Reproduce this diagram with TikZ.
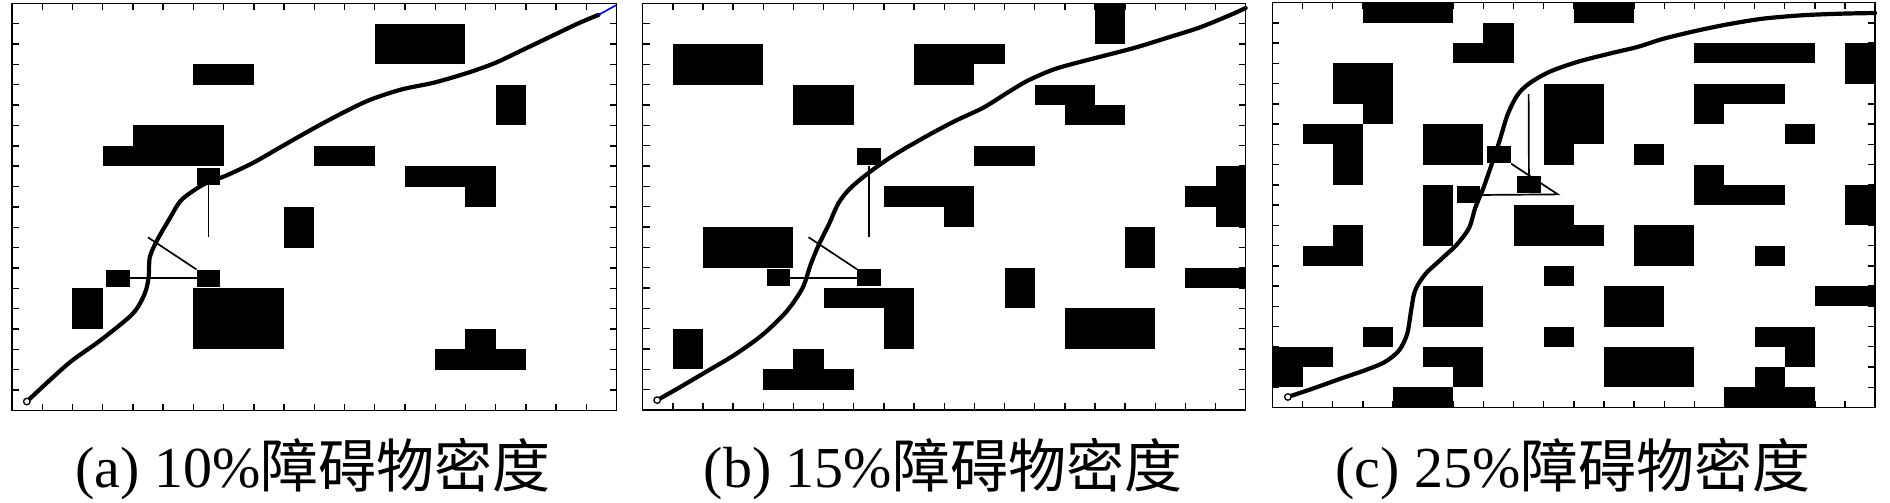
\documentclass[tikz,border=0pt]{standalone}
\usepackage{fontspec}
\setmainfont{Liberation Serif}
\newfontfamily\cjk{Noto Sans CJK SC}
\tikzset{
 obst/.style={fill=black},
 frm/.style={line width=1.5pt},
 tck/.style={line width=1.4pt},
 route/.style={line width=4.2pt, line cap=round, line join=round},
 mv/.style={line width=1.7pt},
 dyn/.style={fill=black, inner sep=0pt, minimum width=23.5pt, minimum height=17pt},
 startpt/.style={circle, draw, fill=white, line width=1.3pt, inner sep=0pt, minimum size=6.5pt},
 lab/.style={font=\fontsize{58}{60}\selectfont, anchor=base, inner sep=0pt}
}
\newcommand\myframe{%
  \draw[frm] (0,0) rectangle (20,20);
  \foreach \i in {1,...,19}{%
    \draw[tck] (\i,0) -- (\i,0.33);
    \draw[tck] (\i,20) -- (\i,19.67);
    \draw[tck] (0,\i) -- (0.23,\i);
    \draw[tck] (20,\i) -- (19.77,\i);
  }}
\begin{document}
\begin{tikzpicture}[x=1pt,y=1pt]
\useasboundingbox (0,0) rectangle (1890,-503);
\fill[white] (0,0) rectangle (1890,-503);

% ---------------- panel (a)
\begin{scope}[shift={(12pt,-3.3pt)}, x=30.23pt, y=-20.36pt]
\fill[obst] (12,1) rectangle (15,3);
\fill[obst] (6,3) rectangle (8,4);
\fill[obst] (16,4) rectangle (17,6);
\fill[obst] (4,6) rectangle (7,8);
\fill[obst] (3,7) rectangle (4,8);
\fill[obst] (10,7) rectangle (12,8);
\fill[obst] (13,8) rectangle (16,9);
\fill[obst] (15,9) rectangle (16,10);
\fill[obst] (9,10) rectangle (10,12);
\fill[obst] (2,14) rectangle (3,16);
\fill[obst] (6,14) rectangle (9,17);
\fill[obst] (15,16) rectangle (16,17);
\fill[obst] (14,17) rectangle (17,18);
\node[dyn] (a1) at (6.5,8.5) {};
\node[dyn] (a2) at (3.5,13.5) {};
\node[dyn] (a3) at (6.5,13.5) {};
\coordinate (a1end) at (6.5,11.5);
\coordinate (a3end) at (4.5,11.5);
\draw[mv] (a1.south) -- (a1end);
\draw[mv] (a2.east) -- (a3.west);
\draw[mv] (a3.north west) -- (a3end);
\draw[route] plot[smooth] coordinates {(0.49,19.56) (1.86,17.70) (2.92,16.56) (3.99,15.25) (4.39,14.26) (4.52,13.44) (4.56,12.46) (4.80,11.64) (5.18,10.66) (5.58,9.70) (6.11,9.10) (6.51,8.77) (7.04,8.49) (7.97,7.84) (8.90,7.05) (9.97,6.15) (10.90,5.41) (11.83,4.75) (12.89,4.23) (13.95,3.90) (15.02,3.44) (15.95,2.95) (16.88,2.30) (17.81,1.64) (18.74,0.98) (19.40,0.57)};
\coordinate (aend) at (19.40,0.57);
\coordinate (acorner) at (20,0.08);
\draw[blue!80!black, line width=1.6pt] (aend) -- (acorner);
\node[startpt] (astart) at (0.49,19.56) {};
\myframe
\end{scope}

% ---------------- panel (b)
\begin{scope}[shift={(642.7pt,-3.3pt)}, x=30.15pt, y=-20.34pt]
\fill[obst] (15,0) rectangle (16,2);
\fill[obst] (1,2) rectangle (4,4);
\fill[obst] (9,2) rectangle (12,3);
\fill[obst] (9,3) rectangle (11,4);
\fill[obst] (5,4) rectangle (7,6);
\fill[obst] (13,4) rectangle (15,5);
\fill[obst] (14,5) rectangle (16,6);
\fill[obst] (11,7) rectangle (13,8);
\fill[obst] (19,8) rectangle (20,11);
\fill[obst] (18,9) rectangle (19,10);
\fill[obst] (8,9) rectangle (11,10);
\fill[obst] (10,10) rectangle (11,11);
\fill[obst] (2,11) rectangle (5,13);
\fill[obst] (16,11) rectangle (17,13);
\fill[obst] (12,13) rectangle (13,15);
\fill[obst] (18,13) rectangle (20,14);
\fill[obst] (6,14) rectangle (9,15);
\fill[obst] (8,15) rectangle (9,17);
\fill[obst] (14,15) rectangle (17,17);
\fill[obst] (1,16) rectangle (2,18);
\fill[obst] (5,17) rectangle (6,18);
\fill[obst] (4,18) rectangle (7,19);
\node[dyn] (b1) at (7.5,7.55) {};
\node[dyn] (b2) at (4.5,13.5) {};
\node[dyn] (b3) at (7.5,13.5) {};
\coordinate (b1end) at (7.5,11.5);
\coordinate (b3end) at (5.5,11.5);
\draw[mv] (b1.south) -- (b1end);
\draw[mv] (b2.east) -- (b3.west);
\draw[mv] (b3.north west) -- (b3end);
\draw[route] plot[smooth] coordinates {(0.48,19.51) (1.17,18.93) (2.11,18.11) (3.04,17.29) (3.97,16.30) (4.77,15.15) (5.30,14.00) (5.57,12.85) (5.84,11.87) (6.17,10.88) (6.50,9.81) (6.90,9.07) (7.57,8.25) (8.37,7.43) (9.43,6.52) (10.37,5.78) (11.30,5.13) (12.10,4.39) (12.76,3.81) (13.56,3.29) (14.23,2.99) (15.30,2.58) (16.36,2.17) (17.43,1.68) (18.49,1.18) (19.56,0.53) (20.0,0.23)};
\node[startpt] (bstart) at (0.48,19.51) {};
\myframe
\end{scope}

% ---------------- panel (c)
\begin{scope}[shift={(1272.5pt,-2.7pt)}, x=30.13pt, y=-20.24pt]
\fill[obst] (3,0) rectangle (6,1);
\fill[obst] (10,0) rectangle (12,1);
\fill[obst] (7,1) rectangle (8,2);
\fill[obst] (6,2) rectangle (8,3);
\fill[obst] (14,2) rectangle (18,3);
\fill[obst] (19,2) rectangle (20,4);
\fill[obst] (2,3) rectangle (4,5);
\fill[obst] (3,5) rectangle (4,6);
\fill[obst] (9,4) rectangle (11,7);
\fill[obst] (9,7) rectangle (10,8);
\fill[obst] (14,4) rectangle (17,5);
\fill[obst] (14,5) rectangle (15,6);
\fill[obst] (1,6) rectangle (3,7);
\fill[obst] (2,7) rectangle (3,9);
\fill[obst] (5,6) rectangle (7,8);
\fill[obst] (17,6) rectangle (18,7);
\fill[obst] (12,7) rectangle (13,8);
\fill[obst] (14,8) rectangle (15,9);
\fill[obst] (14,9) rectangle (17,10);
\fill[obst] (19,9) rectangle (20,11);
\fill[obst] (5,9) rectangle (6,12);
\fill[obst] (8,10) rectangle (10,11);
\fill[obst] (8,11) rectangle (11,12);
\fill[obst] (2,11) rectangle (3,12);
\fill[obst] (1,12) rectangle (3,13);
\fill[obst] (12,11) rectangle (14,13);
\fill[obst] (16,12) rectangle (17,13);
\fill[obst] (9,13) rectangle (10,14);
\fill[obst] (5,14) rectangle (7,16);
\fill[obst] (11,14) rectangle (13,16);
\fill[obst] (18,14) rectangle (20,15);
\fill[obst] (3,16) rectangle (4,17);
\fill[obst] (9,16) rectangle (10,17);
\fill[obst] (16,16) rectangle (18,17);
\fill[obst] (17,17) rectangle (18,18);
\fill[obst] (16,18) rectangle (17,19);
\fill[obst] (15,19) rectangle (18,20);
\fill[obst] (0,17) rectangle (2,18);
\fill[obst] (0,18) rectangle (1,19);
\fill[obst] (5,17) rectangle (7,18);
\fill[obst] (6,18) rectangle (7,19);
\fill[obst] (11,17) rectangle (14,19);
\fill[obst] (4,19) rectangle (6,20);
\node[dyn] (c1) at (7.52,7.52) {};
\node[dyn] (c2) at (8.51,8.98) {};
\node[dyn] (c3) at (6.5,9.5) {};
\coordinate (c2top) at (8.5,4.52);
\coordinate (capex) at (9.47,9.47);
\draw[mv] (c2top) -- (c2.north);
\draw[mv] (c1.south east) -- (capex) -- (c3.east);
\draw[route] plot[smooth] coordinates {(0.51,19.48) (1.33,19.07) (2.27,18.57) (3.07,18.16) (3.73,17.75) (4.20,17.18) (4.47,16.36) (4.60,15.21) (4.73,14.23) (5.07,13.41) (5.60,12.67) (6.13,11.93) (6.53,11.11) (6.73,10.13) (7.00,9.15) (7.27,8.0) (7.53,6.85) (7.80,5.54) (8.13,4.56) (8.53,3.98) (9.20,3.41) (10.13,2.92) (11.20,2.51) (12.13,2.18) (12.93,1.80) (14.0,1.41) (15.07,1.08) (16.27,0.79) (17.6,0.62) (18.93,0.54) (20.0,0.51)};
\node[startpt] (cstart) at (0.51,19.48) {};
\myframe
\end{scope}

% ---------------- labels
\node[lab] (la) at (313,-487) {(a) 10\%{\cjk 障碍物密度}};
\node[lab] (lb) at (943,-487) {(b) 15\%{\cjk 障碍物密度}};
\node[lab] (lc) at (1573,-487) {(c) 25\%{\cjk 障碍物密度}};
\end{tikzpicture}
\end{document}
